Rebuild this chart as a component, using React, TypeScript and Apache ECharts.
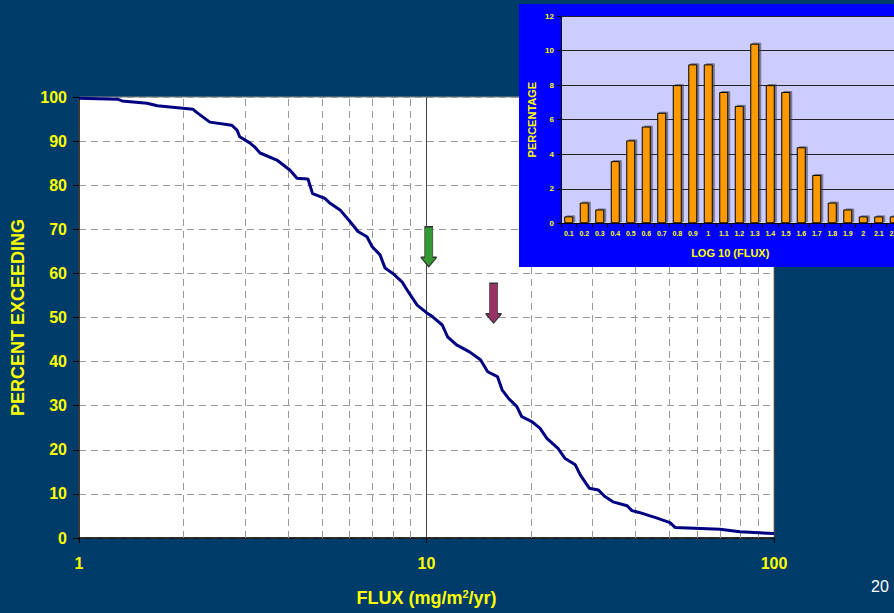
import React, { useEffect, useRef } from "react";
import * as echarts from "echarts";

// Main chart: flux (mg/m2/yr) vs percent exceeding
const fluxValues = [
  1.0, 1.29, 1.33, 1.57, 1.68, 2.13, 2.19, 2.38, 2.75, 2.85, 2.9, 3.1, 3.2, 3.32, 3.71, 4.05, 4.24, 4.56, 4.7, 5.1,
  5.28, 5.64, 6.03, 6.35, 6.74, 6.97, 7.35, 7.6, 8.0, 8.5, 8.85, 9.4, 10.0, 10.4, 11.1, 11.5, 12.2, 13.3, 14.3, 15.0,
  16.0, 16.5, 17.2, 18.2, 18.8, 20.1, 21.2, 22.2, 23.9, 25.0, 26.8, 27.7, 29.0, 29.4, 31.2, 32.6, 34.4, 37.8, 39.0,
  40.9, 46.1, 50.2, 51.9, 69.9, 79.8, 100,
];
const pctExceeding = [
  99.7, 99.5, 99.1, 98.6, 98.0, 97.2, 96.4, 94.3, 93.6, 92.5, 91.0, 89.6, 88.7, 87.3, 85.7, 83.4, 81.6, 81.4, 78.1, 77.0,
  75.9, 74.4, 71.7, 69.5, 68.3, 66.1, 64.2, 61.2, 60.0, 58.1, 55.9, 52.8, 51.1, 50.2, 48.3, 45.6, 43.8, 42.2, 40.4, 37.7,
  36.6, 33.6, 31.7, 29.8, 27.5, 26.4, 24.9, 22.6, 20.3, 18.1, 16.6, 14.3, 12.0, 11.3, 10.9, 9.4, 8.2, 7.3, 6.2,
  5.8, 4.5, 3.5, 2.4, 2.0, 1.4, 1.0,
];
const minorGridFlux = [2, 3, 4, 5, 6, 7, 8, 9, 20, 30, 40, 50, 60, 70, 80, 90];
// Arrows: [flux, percent] of arrow tip
const greenArrow = [10.15, 61.5];
const maroonArrow = [15.6, 48.7];

// Inset histogram
const logFluxCats = [
  "0.1", "0.2", "0.3", "0.4", "0.5", "0.6", "0.7", "0.8", "0.9", "1", "1.1", "1.2",
  "1.3", "1.4", "1.5", "1.6", "1.7", "1.8", "1.9", "2", "2.1", "2.2", "2.3",
];
const percentageValues = [
  0.4, 1.2, 0.8, 3.6, 4.8, 5.6, 6.4, 8.0, 9.2, 9.2, 7.6, 6.8,
  10.4, 8.0, 7.6, 4.4, 2.8, 1.2, 0.8, 0.4, 0.4, 0.4, 0.4,
];

const FONT = "'Liberation Sans', Arial, sans-serif";
const YELLOW = "#FFFF00";
const BG = "#003C69";
const ARROW_PATH = "path://M4,0 L12,0 L12,30.5 L16,30.5 L8,40 L0,30.5 L4,30.5 Z";

export default function App() {
  const ref = useRef<HTMLDivElement>(null);
  useEffect(() => {
    if (!ref.current) return;
    const chart = echarts.init(ref.current, null, { renderer: "svg" });
    const lineData = fluxValues.map((f, i) => [f, pctExceeding[i]]);
    chart.setOption({
      animation: false,
      backgroundColor: BG,
      textStyle: { fontFamily: FONT },
      grid: [
        {
          left: 79, top: 97, width: 695, height: 441,
          show: true, backgroundColor: "#ffffff", borderColor: "#888888", borderWidth: 1,
          outerBoundsMode: "none", containLabel: false,
          z: 0,
        },
        {
          left: 561, top: 16, width: 356.5, height: 207.3,
          show: true, backgroundColor: "#CCCCFF", borderWidth: 0,
          outerBoundsMode: "none", containLabel: false,
          z: 51,
        },
      ],
      xAxis: [
        {
          type: "log", logBase: 10, min: 1, max: 100, gridIndex: 0,
          axisLine: { show: true, lineStyle: { color: "#000000", width: 1.5 } },
          axisTick: { show: true, length: 5, lineStyle: { color: "#000000" } },
          axisLabel: {
            color: YELLOW, fontWeight: "bold", fontSize: 16, fontFamily: FONT, margin: 17,
            formatter: (v: number) => String(Math.round(v)),
          },
          splitLine: { show: true, lineStyle: { color: "#444444", width: 1 } },
          name: "FLUX (mg/m{sup|2}/yr)",
          nameLocation: "middle",
          nameGap: 50,
          nameTextStyle: {
            color: YELLOW, fontWeight: "bold", fontSize: 18, fontFamily: FONT,
            rich: {
              sup: { color: YELLOW, fontWeight: "bold", fontSize: 11, fontFamily: FONT, verticalAlign: "bottom", padding: [0, 0, 8, 0] },
            },
          },
        },
        {
          type: "category", gridIndex: 1, data: logFluxCats,
          axisLine: { show: true, lineStyle: { color: "#000000", width: 1 } },
          axisTick: { show: true, length: 4, lineStyle: { color: "#000000" } },
          axisLabel: { color: YELLOW, fontWeight: "bold", fontSize: 7, fontFamily: FONT, margin: 7, interval: 0 },
          name: "LOG 10 (FLUX)",
          nameLocation: "middle",
          nameGap: 24,
          nameTextStyle: { color: YELLOW, fontWeight: "bold", fontSize: 11, fontFamily: FONT, padding: [0, 18, 0, 0] },
          z: 52,
        },
      ],
      yAxis: [
        {
          type: "value", min: 0, max: 100, interval: 10, gridIndex: 0,
          axisLine: { show: true, lineStyle: { color: "#333333", width: 1.5 } },
          axisTick: { show: true, length: 6, lineStyle: { color: "#000000" } },
          axisLabel: { color: YELLOW, fontWeight: "bold", fontSize: 16, fontFamily: FONT, margin: 12 },
          splitLine: { show: true, lineStyle: { color: "#999999", type: [7, 5], width: 1 } },
          name: "PERCENT EXCEEDING",
          nameLocation: "middle",
          nameGap: 52,
          nameRotate: 90,
          nameTextStyle: { color: YELLOW, fontWeight: "bold", fontSize: 18, fontFamily: FONT },
        },
        {
          type: "value", min: 0, max: 12, interval: 2, gridIndex: 1,
          axisLine: { show: true, lineStyle: { color: "#000000", width: 1 } },
          axisTick: { show: true, length: 4, lineStyle: { color: "#000000" } },
          axisLabel: { color: YELLOW, fontWeight: "bold", fontSize: 8, fontFamily: FONT, margin: 7 },
          splitLine: { show: true, lineStyle: { color: "#222222", width: 1 } },
          name: "PERCENTAGE",
          nameLocation: "middle",
          nameGap: 24,
          nameRotate: 90,
          nameTextStyle: { color: YELLOW, fontWeight: "bold", fontSize: 11, fontFamily: FONT },
          z: 52,
        },
      ],
      series: [
        {
          type: "line",
          xAxisIndex: 0, yAxisIndex: 0,
          data: lineData,
          showSymbol: false,
          symbol: "none",
          smooth: false,
          lineStyle: { color: "#000080", width: 3 },
          z: 5,
          markLine: {
            silent: true,
            symbol: ["none", "none"],
            label: { show: false },
            lineStyle: { color: "#999999", type: [7, 5], width: 1 },
            data: minorGridFlux.map((v) => ({ xAxis: v })),
            z: 1,
          },
          markPoint: {
            silent: true,
            symbol: ARROW_PATH,
            symbolSize: [16, 40],
            symbolOffset: [0, "-50%"],
            label: { show: false },
            itemStyle: { borderColor: "#333333", borderWidth: 1 },
            data: [
              { coord: greenArrow, itemStyle: { color: "#339933", borderColor: "#333333", borderWidth: 1 } },
              { coord: maroonArrow, itemStyle: { color: "#993366", borderColor: "#333333", borderWidth: 1 } },
            ],
          },
        },
        {
          type: "bar",
          xAxisIndex: 1, yAxisIndex: 1,
          data: percentageValues,
          barWidth: 9,
          itemStyle: {
            color: "#FF9900", borderColor: "#000000", borderWidth: 1,
            shadowColor: "rgba(60,60,60,0.6)", shadowOffsetX: 2, shadowOffsetY: -1, shadowBlur: 0,
          },
          z: 53,
        },
      ],
      graphic: {
        elements: [
          {
            type: "rect", z: 50, silent: true,
            shape: { x: 519, y: 4, width: 380, height: 263 },
            style: { fill: "#0000FF" },
          },
          {
            type: "text", z: 60, silent: true,
            x: 880, y: 586,
            style: { text: "20", fill: "#ffffff", fontSize: 16, fontFamily: FONT, align: "center", verticalAlign: "middle" },
          },
        ],
      },
    });
    return () => chart.dispose();
  }, []);
  return (
    <div
      ref={ref}
      style={{ position: "absolute", left: 0, top: 0, width: 894, height: 613, background: BG }}
    />
  );
}
